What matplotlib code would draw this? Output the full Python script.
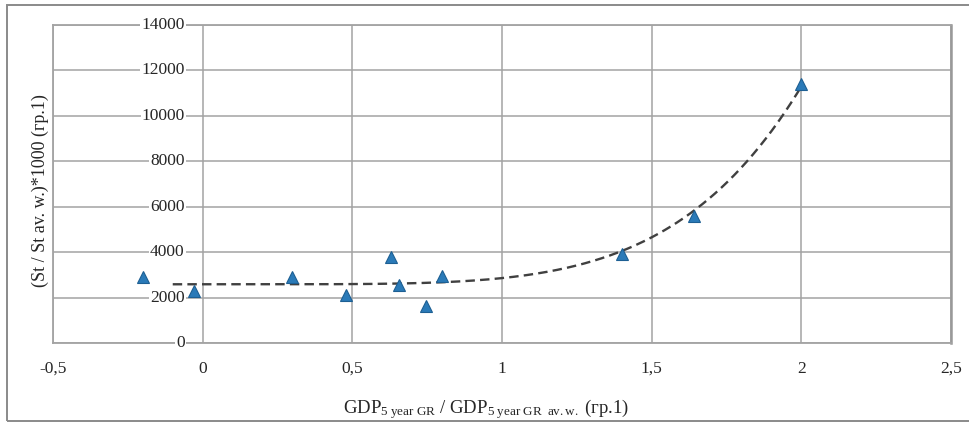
import numpy as np
import matplotlib
matplotlib.use("Agg")
import matplotlib.pyplot as plt
from matplotlib.patches import Rectangle

# Relative GDP growth vs. relative indicator, group 1
gdp_ratio = [-0.20, -0.03, 0.30, 0.48, 0.63, 0.655, 0.745, 0.80, 1.40, 1.64, 2.00]
st_ratio = [2900, 2290, 2920, 2110, 3800, 2550, 1630, 2950, 3910, 5600, 11400]

x_ticks = [-0.5, 0, 0.5, 1, 1.5, 2, 2.5]
x_tick_labels = ["-0,5", "0", "0,5", "1", "1,5", "2", "2,5"]
y_ticks = [0, 2000, 4000, 6000, 8000, 10000, 12000, 14000]
y_tick_labels = [str(v) for v in y_ticks]

trend_start = -0.1
trend_power = 5

plt.rcParams["font.family"] = ["Liberation Serif", "DejaVu Serif"]
plt.rcParams["mathtext.fontset"] = "custom"
plt.rcParams["mathtext.rm"] = "Liberation Serif"
plt.rcParams["mathtext.it"] = "Liberation Serif:italic"

fig = plt.figure(figsize=(9.69, 4.23), dpi=100)
fig.patch.set_facecolor("white")

# outer chart frame
fig.add_artist(Rectangle((7 / 969, 2 / 423), 1.2, (421 - 5) / 423,
                         transform=fig.transFigure, fill=False,
                         edgecolor="#8a8a8a", linewidth=1.4))

ax = fig.add_axes([53 / 969, 1 - 343 / 423, (951 - 53) / 969, (343 - 25) / 423])
ax.set_xlim(-0.5, 2.5)
ax.set_ylim(0, 14000)

grid_color = "#a3a3a3"
ax.grid(True, color=grid_color, linewidth=1.1)
ax.set_axisbelow(True)
for s in ax.spines.values():
    s.set_color(grid_color)
    s.set_linewidth(1.3)
ax.spines["right"].set_color("#999999")
ax.spines["right"].set_linewidth(1.8)

ax.set_xticks(x_ticks)
ax.set_xticklabels(x_tick_labels)
ax.set_yticks(y_ticks)
ax.set_yticklabels([])
ax.tick_params(axis="x", length=0, pad=13, labelsize=12.5, labelcolor="#262626")
ax.tick_params(axis="y", length=0)

# value labels sit on the vertical axis at x = 0
for v, lab in zip(y_ticks, y_tick_labels):
    ax.annotate(lab, xy=(0, v), xytext=(-18, 0), textcoords="offset pixels",
                ha="right", va="center", fontsize=12.5, color="#262626",
                annotation_clip=False,
                bbox=dict(facecolor="white", edgecolor="none", pad=0.6))

# trend line fitted to the points: y = a + b * x^n
x = np.asarray(gdp_ratio)
y = np.asarray(st_ratio)
A = np.column_stack([np.ones_like(x), x ** trend_power])
(a, b), *_ = np.linalg.lstsq(A, y, rcond=None)
xt = np.linspace(trend_start, x.max(), 300)
ax.plot(xt, a + b * xt ** trend_power, linestyle=(0, (4, 2.2)),
        color="#404040", linewidth=1.7, zorder=3)

ax.plot(gdp_ratio, st_ratio, linestyle="none", marker="^", markersize=8.5,
        markerfacecolor="#2a7ab8", markeredgecolor="#1d5f93",
        markeredgewidth=0.8, zorder=4)

ax.set_ylabel("(St / St av. w.)*1000 (гр.1)", fontsize=13, color="#262626")
ax.yaxis.set_label_coords(-4 / 898, 0.48)
ax.set_xlabel(r"GDP$_{\mathrm{5\ year\ GR}}$ / GDP$_{\mathrm{5\ year\ GR\ \ av.w.}}$ (гр.1)",
              fontsize=13.5, color="#262626")
ax.xaxis.set_label_coords((486 - 53) / 898, -(397 - 343) / 318)

fig.savefig("out.png", dpi=100, facecolor="white")
